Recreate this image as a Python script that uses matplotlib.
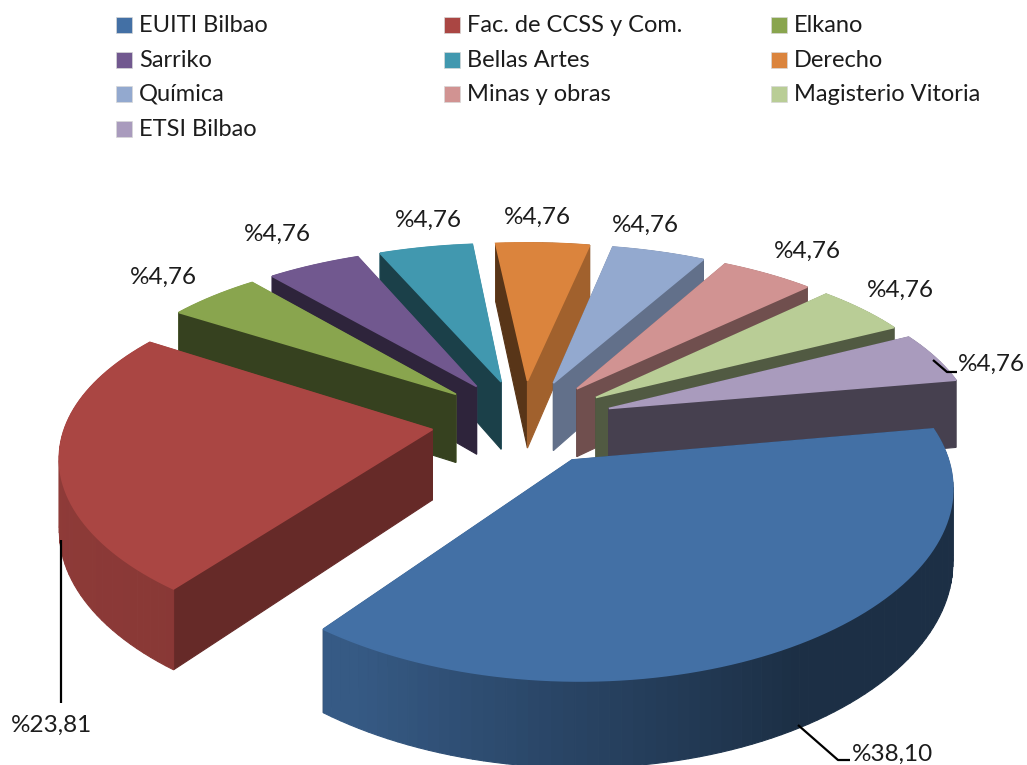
import numpy as np
import matplotlib
matplotlib.use("Agg")
import matplotlib.pyplot as plt
from matplotlib.patches import Polygon, Rectangle

# data
names = ["EUITI Bilbao", "Fac. de CCSS y Com.", "Elkano", "Sarriko", "Bellas Artes",
         "Derecho", "Química", "Minas y obras", "Magisterio Vitoria", "ETSI Bilbao"]
values = [38.10, 23.81, 4.76, 4.76, 4.76, 4.76, 4.76, 4.76, 4.76, 4.76]
colors = ["#4370A5", "#AA4643", "#89A54E", "#71588F", "#4198AF",
          "#DB843D", "#93A9CF", "#D19392", "#B9CD96", "#A99BBD"]

# label positions, pixels
label_xy = [(852, 754), (11, 725), (130, 277), (244, 234), (395, 220),
            (504, 217), (612, 225), (774, 251), (867, 290), (958, 364)]
leaders = {0: [(798, 725), (838, 760), (850, 760)],
           1: [(61, 540), (61, 703)],
           9: [(933, 360), (947, 372), (957, 372)]}

# projection of the tilted pie
cx, cy = 523, 422
R, A = 366, 172
K_X, K_Y = 0.13, 0.16
DEPTH = 70
EXPLODE = 0.25
START = 80  # bearing of first slice, clockwise from the back

# shading by direction the face looks at
face_b = [90, 113, 121, 130, 147, 164, 207, 224, 241, 259, 300]
face_s = [.77, .70, .65, .58, .45, .42, .39, .40, .43, .40, .40]
wall_b = [60, 150, 180, 211, 270, 330]
wall_s = [.42, .42, .60, .80, .85, .85]


def project(x, y, z=0.0):
    y = np.asarray(y)
    dx = 1 + K_X * y
    dy = 1 + K_Y * y
    return np.column_stack([cx + R * np.asarray(x) / dx,
                            cy - A * y / dy + z * DEPTH / dy])


def shade(color, s):
    return np.array(matplotlib.colors.to_rgb(color)) * s


def poly(ax, pts, c, z, lw=0.4):
    ax.add_patch(Polygon(pts, closed=True, facecolor=c, edgecolor=c, lw=lw, zorder=z))


fig = plt.figure(figsize=(10.27, 7.65), dpi=100)
ax = fig.add_axes([0, 0, 1, 1])
ax.set_xlim(0, 1027)
ax.set_ylim(765, 0)
ax.axis("off")

fracs = np.array(values) / sum(values)
edges = START + np.concatenate([[0], np.cumsum(fracs)]) * 360

slices = []
for i in range(len(values)):
    b0, b1 = edges[i], edges[i + 1]
    mid = np.radians((b0 + b1) / 2)
    ox, oy = EXPLODE * np.sin(mid), EXPLODE * np.cos(mid)
    slices.append((oy, i, b0, b1, ox))
slices.sort(key=lambda s: -s[0])

for order, (oy, i, b0, b1, ox) in enumerate(slices):
    z = 2 + order
    c = colors[i]
    bb = np.linspace(b0, b1, max(int((b1 - b0) / 1.5), 8))
    rad = np.radians(bb)
    xs, ys = ox + np.sin(rad), oy + np.cos(rad)
    faces = []
    # cut faces
    for b, xe, ye, nb in [(b0, xs[0], ys[0], b0 - 90), (b1, xs[-1], ys[-1], b1 + 90)]:
        pts = np.vstack([project([ox, xe], [oy, ye], 0), project([xe, ox], [ye, oy], 1)])
        faces.append(((oy + ye) / 2, pts, shade(c, np.interp(nb % 360, face_b, face_s))))
    # outer wall
    for j in range(len(bb) - 1):
        pts = np.vstack([project(xs[j:j + 2], ys[j:j + 2], 0),
                         project(xs[j:j + 2][::-1], ys[j:j + 2][::-1], 1)])
        nb = ((bb[j] + bb[j + 1]) / 2) % 360
        faces.append(((ys[j] + ys[j + 1]) / 2, pts, shade(c, np.interp(nb, wall_b, wall_s))))
    faces.sort(key=lambda f: -f[0])
    for _, pts, col in faces:
        poly(ax, pts, col, z, lw=0.8)
    top = project(np.concatenate([[ox], xs]), np.concatenate([[oy], ys]))
    poly(ax, top, c, z, lw=1.2)

# legend
col_x = [116, 444, 771]
row_y = [25, 60, 94, 129]
for i, name in enumerate(names):
    r, k = divmod(i, 3)
    ax.add_patch(Rectangle((col_x[k], row_y[r] - 8), 16, 16, facecolor=colors[i],
                           edgecolor="#d8d8d8", lw=0.5))
    ax.text(col_x[k] + 23, row_y[r], name, fontsize=17, family="Lato",
            color="#1c1c1c", va="center", ha="left")

# data labels
for i, v in enumerate(values):
    txt = "%" + f"{v:.2f}".replace(".", ",")
    ax.text(label_xy[i][0], label_xy[i][1], txt, fontsize=17.5, family="Lato",
            color="#1c1c1c", va="center", ha="left", zorder=30)
for pts in leaders.values():
    ax.plot(*zip(*pts), color="black", lw=1.6, zorder=30, solid_capstyle="butt")

fig.savefig("out.png", dpi=100)
